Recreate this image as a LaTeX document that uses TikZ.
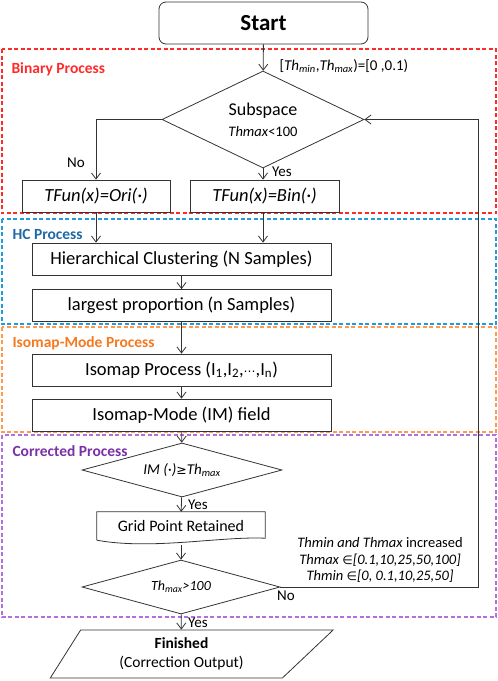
\documentclass[tikz,border=0pt]{standalone}
\usepackage{fontspec}
\setmainfont{Carlito}
\newfontfamily\symfont{DejaVu Sans}
\usepackage{tikz}
\usetikzlibrary{arrows.meta,shapes.geometric}
\definecolor{binred}{HTML}{FF2A2A}
\definecolor{hcblue}{HTML}{1F9BDE}
\definecolor{hctext}{HTML}{1F6AA5}
\definecolor{isoorange}{HTML}{FF9A4D}
\definecolor{isotext}{HTML}{F47920}
\definecolor{corpurple}{HTML}{B26FE0}
\definecolor{cortext}{HTML}{7B2FA8}
\definecolor{ink}{HTML}{333333}
\tikzset{
  box/.style={draw=ink, line width=0.8pt, minimum height=32pt, inner sep=1pt, font=\fontsize{18.5}{20}\selectfont},
  dec/.style={draw=ink, line width=0.8pt, diamond, inner sep=0pt, align=center},
  grp/.style={line width=1.1pt, dash pattern=on 4pt off 2.5pt},
  grplab/.style={anchor=west, font=\bfseries\fontsize{15.5}{17}\selectfont},
  note/.style={font=\fontsize{15}{16.5}\selectfont},
  flow/.style={draw=ink, line width=0.8pt, -{Straight Barb[length=6pt,width=9pt]}}
}

\begin{document}
\begin{tikzpicture}[x=1pt,y=-1pt]
\useasboundingbox (0,0) rectangle (498,681);
\draw[grp, binred] (2,49) rectangle (496,213);
\draw[grp, hcblue] (2,219) rectangle (496,324);
\draw[grp, isoorange] (2,327) rectangle (496,432);
\draw[grp, corpurple] (2,435) rectangle (496,617);
\node[grplab, text=binred] (binlab) at (8,69) {Binary Process};
\node[grplab, text=hctext] (hclab) at (9,234) {HC Process};
\node[grplab, text=isotext] (isolab) at (9,343) {Isomap-Mode Process};
\node[grplab, text=cortext] (corlab) at (9,451) {Corrected Process};

\node[box, rounded corners=7pt, minimum width=209pt, minimum height=42pt, font=\bfseries\fontsize{23}{25}\selectfont] (start) at (263.5,23) {Start};
\node[dec, aspect=2.08, minimum width=202pt, minimum height=97pt, font=\fontsize{18}{19}\selectfont] (sub) at (263,119.5) {Subspace\\[2pt]{\fontsize{14.5}{16}\selectfont\textit{Thmax}<100}};
\node[box, minimum width=148pt, font=\itshape\fontsize{18.5}{20}\selectfont] (ori) at (96,196) {TFun(x)=Ori(·)};
\node[box, minimum width=149pt, font=\itshape\fontsize{18.5}{20}\selectfont] (bin) at (264.5,196) {TFun(x)=Bin(·)};
\node[box, minimum width=299pt] (hc) at (181.5,259) {Hierarchical Clustering (N Samples)};
\node[box, minimum width=299pt] (lp) at (181.5,305.5) {largest proportion (n Samples)};
\node[box, minimum width=299pt] (iso) at (181.5,370) {Isomap Process (I\textsubscript{1},I\textsubscript{2},{\symfont\fontsize{12}{14}\selectfont ⋯},I\textsubscript{n})};
\node[box, minimum width=299pt] (imf) at (181.5,415) {Isomap-Mode (IM) field};
\node[dec, aspect=3.7, minimum width=200pt, minimum height=54pt, font=\itshape\fontsize{15}{16}\selectfont] (imd) at (182,470) {IM (·){\symfont\upshape\fontsize{12.5}{14}\selectfont ≥}Th\textsubscript{max}};
\node[minimum width=168pt, minimum height=28pt, font=\fontsize{16}{17}\selectfont] (grid) at (181,526) {Grid Point Retained};
\draw[ink, line width=0.8pt] (grid.south west) |- (grid.north east) -- ([yshift=2pt]grid.south east)
  .. controls +(-45,-2) and +(55,10) .. (grid.south west);
\node[dec, aspect=3.67, minimum width=198pt, minimum height=54pt, font=\itshape\fontsize{14}{15}\selectfont] (thd) at (181,587) {Th\textsubscript{max}>100};
\node[draw=ink, line width=0.8pt, trapezium, trapezium left angle=60, trapezium right angle=134, trapezium stretches=true,
  minimum width=283pt, minimum height=48pt, inner sep=0pt, align=center, font=\fontsize{15.5}{19}\selectfont] (fin) at (181.5,654) {\textbf{Finished}\\(Correction Output)};

\node[note, anchor=west] (init) at (276,66) {[\textit{Th}\textsubscript{\textit{min}},\textit{Th}\textsubscript{\textit{max}})=[0 ,0.1)};
\node[note] (no1) at (76,163) {No};
\node[note] (yes1) at (282,172) {Yes};
\node[note] (yes2) at (198,505) {Yes};
\node[note] (no2) at (286,596) {No};
\node[note] (yes3) at (198,623) {Yes};
\node[note, align=center, font=\fontsize{14.5}{16.5}\selectfont] (upd) at (380,560) {\textit{Thmin and Thmax} increased\\
  \textit{Thmax} {\symfont\fontsize{12}{14}\selectfont ∈}\textit{[0.1,10,25,50,100]}\\
  \textit{Thmin} {\symfont\fontsize{12}{14}\selectfont ∈}\textit{[0, 0.1,10,25,50]}};

\coordinate (fb) at (478,587);
\draw[flow] (start) -- (sub);
\draw[flow] (sub.west) -| (ori.north);
\draw[flow] (sub.south) -- (sub.south |- bin.north);
\draw[flow] (ori.south) -- (ori.south |- hc.north);
\draw[flow] (sub.south |- bin.south) -- (sub.south |- hc.north);
\draw[flow] (hc) -- (lp);
\draw[flow] (lp) -- (iso);
\draw[flow] (iso) -- (imf);
\draw[flow] (imf) -- (imd);
\draw[flow] (imd) -- (grid);
\draw[flow] ([yshift=-5pt]grid.south) -- (thd);
\draw[flow] (thd) -- (fin);
\draw[flow] (thd.east) -- (fb) |- (sub.east);
\end{tikzpicture}
\end{document}
